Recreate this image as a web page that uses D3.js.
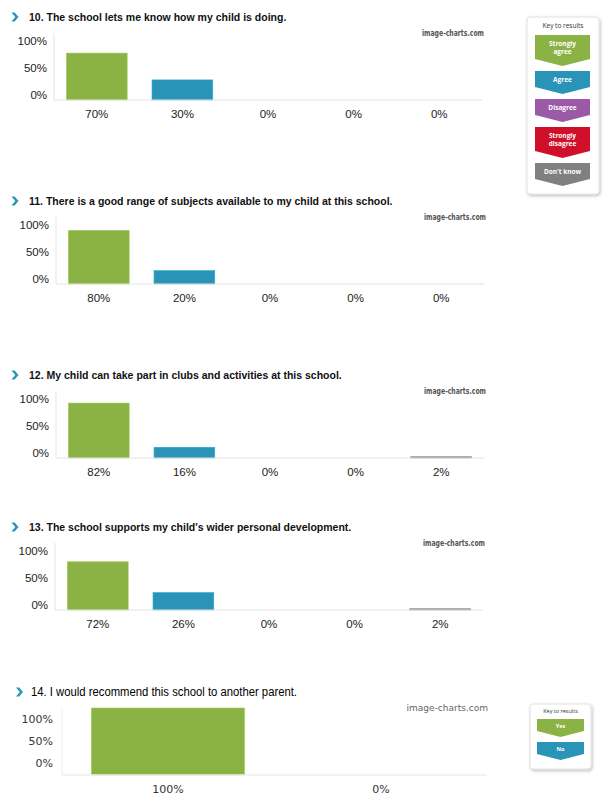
<!DOCTYPE html>
<html lang="en">
<head>
<meta charset="UTF-8">
<title>Parent survey results</title>
<script src="https://d3js.org/d3.v7.min.js"></script>
<style>
    body { margin: 0; background: #fff; }
    svg { display: block; }
    .q-title { font-family: "Liberation Sans", Arial, sans-serif; font-weight: bold; font-size: 10.5px; fill: #111; }
    .tick text { font-family: "Liberation Sans", Arial, sans-serif; font-size: 11.5px; fill: #222; }
    .yn .tick text { font-family: "DejaVu Sans", Verdana, sans-serif; font-size: 11px; fill: #333; }
    .watermark { font-family: "DejaVu Sans Condensed", "Liberation Sans Narrow", sans-serif; font-weight: bold; font-size: 8.5px; fill: #555; }
    .watermark2 { font-family: "DejaVu Sans", sans-serif; font-size: 9px; fill: #666; }
    .key-title { font-family: "Open Sans", "DejaVu Sans", sans-serif; font-size: 6.5px; fill: #333; }
    .key-label { font-family: "Open Sans", "DejaVu Sans", sans-serif; font-weight: bold; font-size: 6.5px; fill: #fff; }
</style>
</head>
<body>
<svg width="610" height="807"></svg>
<script>
    // answer categories and question data
    const categories = ["Strongly agree", "Agree", "Disagree", "Strongly disagree", "Don't know"];
    const catColors = ["#8bb244", "#2a93b8", "#9b59a6", "#d0102a", "#808080"];
    const keyLines = [["Strongly", "agree"], ["Agree"], ["Disagree"], ["Strongly", "disagree"], ["Don't know"]];

    const titles = [
        "10. The school lets me know how my child is doing.",
        "11. There is a good range of subjects available to my child at this school.",
        "12. My child can take part in clubs and activities at this school.",
        "13. The school supports my child's wider personal development."
    ];
    const q10 = [70, 30, 0, 0, 0];
    const q11 = [80, 20, 0, 0, 0];
    const q12 = [82, 16, 0, 0, 2];
    const q13 = [72, 26, 0, 0, 2];
    const values = [q10, q11, q12, q13];

    const ynCategories = ["Yes", "No"];
    const ynColors = ["#8bb244", "#2a93b8"];
    const q14Title = "14. I would recommend this school to another parent.";
    const q14 = [100, 0];

    const yTickLabels = ["0%", "50%", "100%"];

    // layout: baseline y of each panel and x range of its plot
    const baselines = [100, 284, 458, 610];
    const xRanges = [[54, 482], [56, 484], [56, 484], [55, 483]];
    const plotH = 67;

    const svg = d3.select("svg");

    const defs = svg.append("defs");
    const shadow = defs.append("filter").attr("id", "shadow")
        .attr("x", "-20%").attr("y", "-20%").attr("width", "150%").attr("height", "150%");
    shadow.append("feDropShadow").attr("dx", 1).attr("dy", 1.5).attr("stdDeviation", 1.5)
        .attr("flood-color", "#000").attr("flood-opacity", 0.25);

    function drawTitle(g, text, y, opts) {
        // thick blue chevron before the question
        g.append("path")
            .attr("d", `M${opts.ax},${y - 4.5} l3.2,0 l3.8,4.5 l-3.8,4.5 l-3.2,0 l3.8,-4.5 z`)
            .attr("fill", "#2a93b8");
        const t = g.append("text")
            .attr("class", "q-title")
            .attr("x", opts.tx)
            .attr("y", y + 4)
            .text(text);
        if (opts.narrow) {
            t.style("font-weight", "normal").style("font-size", "12px").style("fill", "#000")
                .attr("textLength", opts.narrow).attr("lengthAdjust", "spacingAndGlyphs");
        }
    }

    function drawPanel(idx) {
        const base = baselines[idx];
        const data = values[idx];
        const g = svg.append("g");

        const x = d3.scaleBand()
            .domain(categories)
            .range(xRanges[idx])
            .paddingInner(0.29)
            .paddingOuter(0.145);
        const y = d3.scaleLinear().domain([0, 100]).range([base, base - plotH]);
        const yLab = d3.scalePoint().domain(yTickLabels).range([base - 6, base - 60]);

        drawTitle(g, titles[idx], base - 83, { ax: 11.5, tx: 29 });

        g.append("text")
            .attr("class", "watermark")
            .attr("x", xRanges[idx][1] + 2)
            .attr("y", base - 64)
            .attr("text-anchor", "end")
            .attr("textLength", 62)
            .attr("lengthAdjust", "spacingAndGlyphs")
            .text("image-charts.com");

        // axis lines
        g.append("line")
            .attr("x1", xRanges[idx][0]).attr("x2", xRanges[idx][0])
            .attr("y1", y(100)).attr("y2", y(0))
            .attr("stroke", "#e4e4e4");

        g.selectAll(".bar")
            .data(data.map((v, i) => ({ cat: categories[i], v: v, c: catColors[i] })).filter(d => d.v > 0))
            .join("rect")
            .attr("class", "bar")
            .attr("x", d => x(d.cat))
            .attr("width", x.bandwidth())
            .attr("y", d => y(d.v))
            .attr("height", d => y(0) - y(d.v))
            .attr("fill", d => d.c)
            .attr("stroke", d => d3.color(d.c).brighter(0.4))
            .attr("stroke-width", 0.6);

        g.append("line")
            .attr("x1", xRanges[idx][0]).attr("x2", xRanges[idx][1])
            .attr("y1", y(0)).attr("y2", y(0))
            .attr("stroke", "#e4e4e4").attr("stroke-width", 1.2);

        g.append("g")
            .attr("transform", `translate(${xRanges[idx][0] - 7},0)`)
            .call(d3.axisLeft(yLab).tickSize(0).tickPadding(0))
            .call(a => a.select(".domain").remove())
            .selectAll("text").attr("dy", "0.35em");

        g.append("g")
            .attr("transform", `translate(0,${base})`)
            .call(d3.axisBottom(x).tickSize(0).tickPadding(10)
                .tickFormat((d, i) => data[i] + "%"))
            .call(a => a.select(".domain").remove());
    }

    values.forEach((d, i) => drawPanel(i));

    // Q14 yes/no panel
    (function () {
        const base = 775;
        const xr = [62, 487];
        const g = svg.append("g").attr("class", "yn");
        const x = d3.scaleBand().domain(ynCategories).range(xr).paddingInner(0.282).paddingOuter(0.138);
        const y = d3.scaleLinear().domain([0, 100]).range([base, base - plotH]);
        const yLab = d3.scalePoint().domain(yTickLabels).range([base - 12, base - 56]);

        drawTitle(g, q14Title, base - 83, { ax: 16, tx: 31, narrow: 266 });

        g.append("text")
            .attr("class", "watermark2")
            .attr("x", xr[1] + 1)
            .attr("y", base - 64)
            .attr("text-anchor", "end")
            .text("image-charts.com");

        g.append("line")
            .attr("x1", xr[0]).attr("x2", xr[0])
            .attr("y1", y(100)).attr("y2", y(0))
            .attr("stroke", "#eee");

        g.selectAll(".bar")
            .data(q14.map((v, i) => ({ cat: ynCategories[i], v: v, c: ynColors[i] })).filter(d => d.v > 0))
            .join("rect")
            .attr("x", d => x(d.cat))
            .attr("width", x.bandwidth())
            .attr("y", d => y(d.v))
            .attr("height", d => y(0) - y(d.v))
            .attr("fill", d => d.c)
            .attr("stroke", d => d3.color(d.c).brighter(0.4))
            .attr("stroke-width", 0.6);

        g.append("line")
            .attr("x1", xr[0]).attr("x2", xr[1])
            .attr("y1", y(0)).attr("y2", y(0))
            .attr("stroke", "#eee").attr("stroke-width", 1.5);

        g.append("g")
            .attr("transform", `translate(${xr[0] - 9},0)`)
            .call(d3.axisLeft(yLab).tickSize(0).tickPadding(0))
            .call(a => a.select(".domain").remove())
            .selectAll("text").attr("dy", "0.35em");

        g.append("g")
            .attr("transform", `translate(0,${base})`)
            .call(d3.axisBottom(x).tickSize(0).tickPadding(10)
                .tickFormat((d, i) => q14[i] + "%"))
            .call(a => a.select(".domain").remove());
    })();

    // keys
    function drawKey(box, items, colors, item) {
        const g = svg.append("g");
        g.append("rect")
            .attr("x", box.x).attr("y", box.y)
            .attr("width", box.w).attr("height", box.h)
            .attr("rx", 3)
            .attr("fill", "#fff")
            .attr("stroke", "#e2e2e2")
            .attr("filter", "url(#shadow)");
        g.append("text")
            .attr("class", "key-title")
            .attr("x", box.x + box.w / 2)
            .attr("y", box.y + box.titleDy)
            .attr("text-anchor", "middle")
            .style("font-size", box.fs + "px")
            .text("Key to results");

        let top = item.top;
        items.forEach((lines, i) => {
            const rh = lines.length > 1 ? item.h2 : item.h1;
            const x0 = item.x, x1 = item.x + item.w;
            g.append("path")
                .attr("d", `M${x0},${top} L${x1},${top} L${x1},${top + rh} L${(x0 + x1) / 2},${top + rh + item.tip} L${x0},${top + rh} Z`)
                .attr("fill", colors[i]);
            const lh = box.fs + 1.5;
            const ty = top + rh / 2 - (lines.length - 1) * lh / 2 + box.fs * 0.35 + 1;
            lines.forEach((ln, j) => {
                g.append("text")
                    .attr("class", "key-label")
                    .attr("x", (x0 + x1) / 2)
                    .attr("y", ty + j * lh)
                    .attr("text-anchor", "middle")
                    .style("font-size", box.fs + "px")
                    .text(ln);
            });
            top += rh + item.tip + item.gap;
        });
    }

    drawKey({ x: 527, y: 17, w: 72, h: 177, titleDy: 11, fs: 6.5 }, keyLines, catColors,
        { x: 535, w: 55, top: 35, h1: 16, h2: 24, tip: 7, gap: 5 });
    drawKey({ x: 530, y: 704, w: 61, h: 65, titleDy: 9, fs: 5.5 }, ynCategories.map(d => [d]), ynColors,
        { x: 537, w: 47, top: 719, h1: 12, h2: 12, tip: 6, gap: 5 });
</script>
</body>
</html>
